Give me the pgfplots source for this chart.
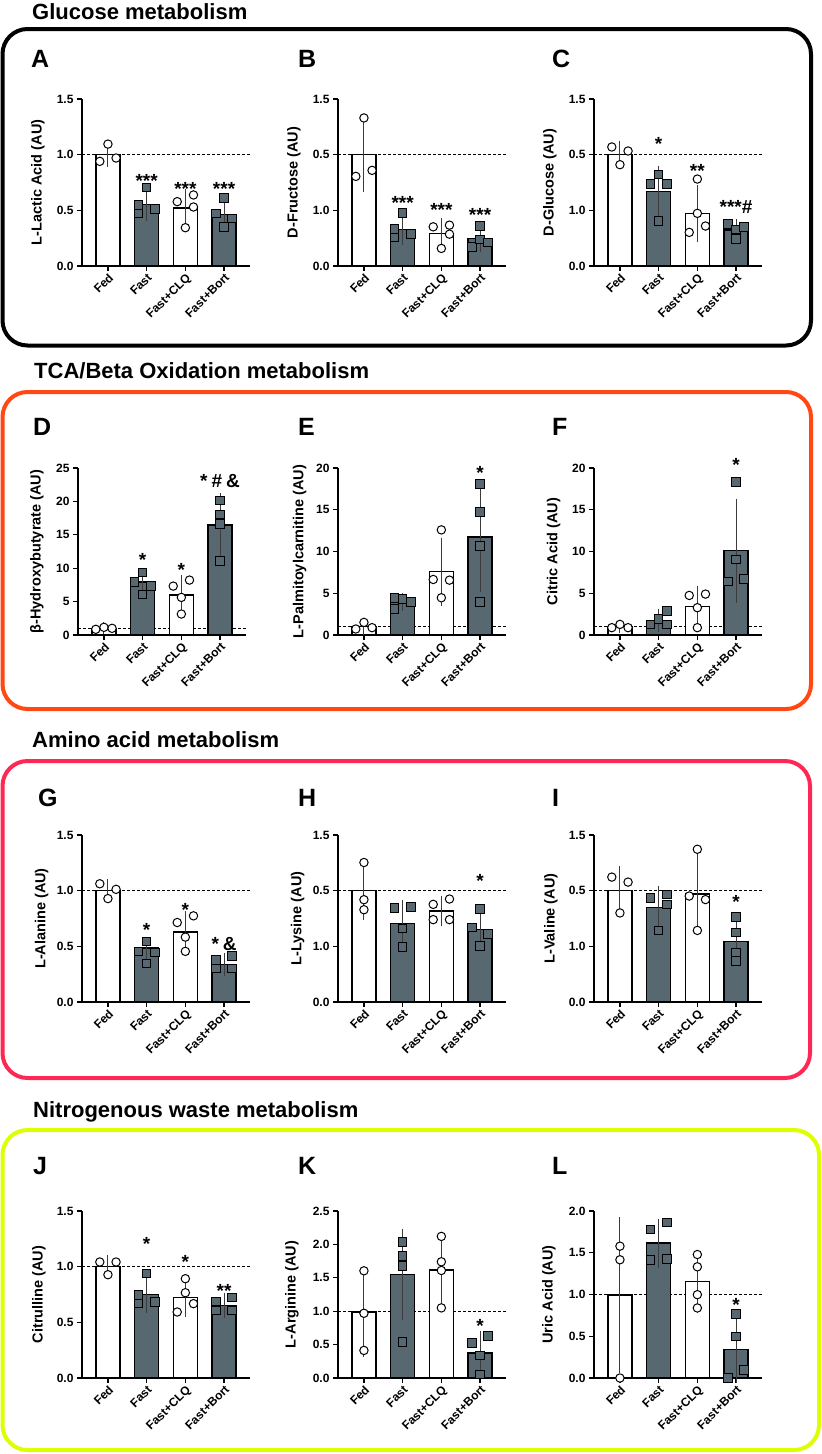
\documentclass[border=0pt]{standalone}
\usepackage{pgfplots}
\pgfplotsset{compat=1.18}
\usepackage{fontspec}
\setmainfont{Liberation Sans}
\definecolor{barcol}{RGB}{87,104,112}
\definecolor{ebcol}{RGB}{60,60,60}
\definecolor{boxB}{RGB}{255,72,20}
\definecolor{boxC}{RGB}{255,40,85}
\definecolor{boxD}{RGB}{221,255,0}
\newcommand\ticklab{\bfseries\fontsize{12}{13}\selectfont}
\newcommand\ylab{\bfseries\fontsize{14.5}{16}\selectfont}
\newcommand\starf{\bfseries\fontsize{19}{19}\selectfont}
\newcommand\panl{\bfseries\fontsize{25}{26}\selectfont}
\newcommand\titl{\bfseries\fontsize{22}{24}\selectfont}
\pgfplotsset{
 panel/.style={
   scale only axis, width=168pt, height=167pt, anchor=south west,
   axis lines=left, axis line style={-, line width=1.2pt},
   xmin=-0.67, xmax=3.67, ymin=0,
   xtick={0,1,2,3}, xticklabels={Fed,Fast,Fast+CLQ,Fast+Bort},
   tick align=outside, major tick length=5pt,
   tick style={black, line width=1.2pt},
   xticklabel style={rotate=45, anchor=north east, font=\ticklab, inner sep=1pt},
   yticklabel style={font=\ticklab},
   /pgf/number format/assume math mode=true,
   ylabel style={font=\ylab, at={(axis description cs:-0.262,0.5)}, anchor=center},
   clip=false,
 },
 dec/.style={yticklabel style={/pgf/number format/.cd, fixed, fixed zerofill, precision=1}},
 weird/.style={ytick={0,0.5,1,1.5}, ymax=1.5, yticklabels={0.0,1.0,0.5,1.5}},
}
\newcommand\dashline{\addplot[black, line width=0.8pt, dash pattern=on 3pt off 2pt] coordinates {(-0.67,1) (3.67,1)};}
\newcommand\whitebars[1]{\addplot[ybar, bar width=24pt, bar shift=0pt, fill=white, draw=black, line width=1.4pt] coordinates {#1};}
\newcommand\darkbars[1]{\addplot[ybar, bar width=24pt, bar shift=0pt, fill=barcol, draw=black, line width=1.4pt] coordinates {#1};}
\newcommand\ebars[1]{\addplot[draw=none, mark=none, error bars/.cd, y dir=both, y explicit, error bar style={draw=ebcol, line width=1pt}, error mark options={draw=ebcol, line width=1pt, mark size=5pt}] coordinates {#1};}
\newcommand\circs[1]{\addplot[only marks, mark=*, mark size=4.2pt, mark options={fill=white, draw=black, line width=1pt}] coordinates {#1};}
\newcommand\sqs[1]{\addplot[only marks, mark=square*, mark size=4.3pt, mark options={fill=barcol, draw=black, line width=1pt}] coordinates {#1};}
\newcommand\stars[3]{\node[font=\starf, inner sep=0pt, yshift=-4pt] at (axis cs:#1,#2) {#3};}
\newcommand\starsc[3]{\node[font=\starf, inner sep=0pt] at (axis cs:#1,#2) {#3};}
\begin{document}
\begin{tikzpicture}
\useasboundingbox (0pt,0pt) rectangle (822pt,-1454pt);
% boxes
\draw[line width=4pt, rounded corners=25pt, black] (2.5pt,-29pt) rectangle (811pt,-345.5pt);
\draw[line width=4pt, rounded corners=25pt, boxB] (2.5pt,-392pt) rectangle (811pt,-709pt);
\draw[line width=4pt, rounded corners=25pt, boxC] (2.5pt,-761pt) rectangle (810pt,-1078pt);
\draw[line width=4pt, rounded corners=25pt, boxD] (2.5pt,-1130pt) rectangle (819pt,-1450pt);
% titles
\node[font=\titl, anchor=base west, inner sep=0pt] at (32pt,-19pt) {Glucose metabolism};
\node[font=\titl, anchor=base west, inner sep=0pt] at (34pt,-378pt) {TCA/Beta Oxidation metabolism};
\node[font=\titl, anchor=base west, inner sep=0pt] at (32pt,-747pt) {Amino acid metabolism};
\node[font=\titl, anchor=base west, inner sep=0pt] at (33pt,-1117pt) {Nitrogenous waste metabolism};
% panel letters
\foreach \l/\x/\y in {A/31/67,B/298/67,C/552/67,D/33/435,E/298/435,F/552/435,G/38/806,H/298/806,I/552/806,J/33/1174,K/298/1174,L/552/1174}
  \node[font=\panl, anchor=base west, inner sep=0pt] at (\x pt,-\y pt) {\l};

% ---------- A
\begin{axis}[panel, dec, at={(82pt,-266pt)}, ymax=1.5, ytick={0,0.5,1,1.5}, ylabel={L-Lactic Acid (AU)}]
\dashline
\whitebars{(0,1.00) (2,0.52)}
\darkbars{(1,0.555) (3,0.465)}
\ebars{(0,1.00) +- (0,0.065) (1,0.555) +- (0,0.105) (2,0.52) +- (0,0.126) (3,0.465) +- (0,0.11)}
\circs{(-0.21,0.94) (0,1.095) (0.21,0.97) (1.79,0.578) (2.21,0.638) (2.21,0.53) (2,0.344)}
\sqs{(1,0.705) (0.79,0.55) (0.79,0.47) (1.21,0.51) (3,0.611) (2.79,0.473) (3.21,0.428) (3,0.353)}
\stars{1}{0.80}{***}
\stars{2}{0.73}{***}
\stars{3}{0.73}{***}
\end{axis}
% ---------- B
\begin{axis}[panel, weird, at={(338pt,-266pt)}, ylabel={D-Fructose (AU)}]
\dashline
\whitebars{(0,1.00) (2,0.29)}
\darkbars{(1,0.33) (3,0.245)}
\ebars{(0,1.00) +- (0,0.286) (1,0.33) +- (0,0.097) (2,0.29) +- (0,0.094) (3,0.245) +- (0,0.07)}
\circs{(0,1.33) (-0.21,0.805) (0.21,0.859) (1.79,0.352) (2.21,0.367) (2.21,0.286) (2,0.158)}
\sqs{(1,0.477) (0.79,0.33) (0.79,0.256) (1.21,0.289) (3,0.358) (2.79,0.173) (3,0.239) (3.21,0.212)}
\stars{1}{0.605}{***}
\stars{2}{0.537}{***}
\stars{3}{0.492}{***}
\end{axis}
% ---------- C
\begin{axis}[panel, weird, at={(594pt,-266pt)}, ylabel={D-Glucose (AU)}]
\dashline
\whitebars{(0,1.00) (2,0.473)}
\darkbars{(1,0.668) (3,0.323)}
\ebars{(0,1.00) +- (0,0.08) (1,0.668) +- (0,0.187) (2,0.473) +- (0,0.213) (3,0.323) +- (0,0.05)}
\circs{(-0.21,1.069) (0.21,1.033) (0,0.91) (2,0.781) (2,0.473) (1.79,0.302) (2.21,0.359)}
\sqs{(1,0.823) (0.79,0.734) (1.21,0.734) (1,0.404) (2.79,0.377) (3,0.329) (3.21,0.350) (3,0.240)}
\stars{1}{1.13}{*}
\stars{2}{0.89}{**}
\starsc{3}{0.527}{***\#}
\end{axis}

% ---------- D
\begin{axis}[panel, at={(78pt,-635pt)}, ymax=25, ytick={0,5,10,15,20,25}, ylabel={β-Hydroxybutyrate (AU)}, ylabel style={at={(axis description cs:-0.245,0.5)}}]
\dashline
\whitebars{(0,1.0) (2,6.0)}
\darkbars{(1,7.95) (3,16.45)}
\ebars{(0,1.0) +- (0,0.15) (1,7.95) +- (0,1.13) (2,6.0) +- (0,2.25) (3,16.45) +- (0,4.03)}
\circs{(-0.21,0.85) (0,1.15) (0.21,1.0) (1.79,7.32) (2.21,8.22) (2,5.63) (2,3.14)}
\sqs{(1,9.36) (0.79,7.92) (1.21,7.37) (1,6.08) (3,20.12) (3,18.03) (3,16.58) (3,11.1)}
\stars{1}{11.8}{*}
\stars{2}{10.3}{*}
\starsc{3}{23.0}{*\hspace{4pt}\#\hspace{4pt}\&}
\end{axis}
% ---------- E
\begin{axis}[panel, at={(338pt,-635pt)}, ymax=20, ytick={0,5,10,15,20}, ylabel={L-Palmitoylcarnitine (AU)}, ylabel style={at={(axis description cs:-0.228,0.5)}}]
\dashline
\whitebars{(0,1.0) (2,7.57)}
\darkbars{(1,3.95) (3,11.75)}
\ebars{(0,1.0) +- (0,0.4) (1,3.95) +- (0,0.5) (2,7.57) +- (0,3.49) (3,11.75) +- (0,6.01)}
\circs{(-0.21,0.72) (0,1.51) (0.21,0.88) (2,12.59) (1.79,6.65) (2.21,6.57) (2,4.46)}
\sqs{(0.79,4.46) (0.79,3.15) (1,4.3) (1.21,3.94) (3,18.05) (3,14.7) (3,10.64) (3,3.94)}
\stars{3}{19.9}{*}
\end{axis}
% ---------- F
\begin{axis}[panel, at={(594pt,-635pt)}, ymax=20, ytick={0,5,10,15,20}, ylabel={Citric Acid (AU)}, ylabel style={at={(axis description cs:-0.24,0.5)}}]
\dashline
\whitebars{(0,1.0) (2,3.4)}
\darkbars{(1,1.75) (3,10.1)}
\ebars{(0,1.0) +- (0,0.22) (1,1.75) +- (0,0.8) (2,3.4) +- (0,1.93) (3,10.1) +- (0,5.62)}
\circs{(-0.21,0.88) (0,1.27) (0.21,0.88) (1.79,4.74) (2.21,4.9) (2,3.27) (2,0.88)}
\sqs{(1.21,2.87) (1,1.91) (0.79,1.27) (1.21,1.27) (3,18.33) (3,9.04) (2.79,6.41) (3.21,6.73)}
\stars{3}{20.8}{*}
\end{axis}

% ---------- G
\begin{axis}[panel, dec, at={(82pt,-1002pt)}, ymax=1.5, ytick={0,0.5,1,1.5}, ylabel={L-Alanine (AU)}, ylabel style={at={(axis description cs:-0.24,0.5)}}]
\dashline
\whitebars{(0,1.00) (2,0.628)}
\darkbars{(1,0.485) (3,0.339)}
\ebars{(0,1.00) +- (0,0.058) (1,0.485) +- (0,0.058) (2,0.628) +- (0,0.142) (3,0.339) +- (0,0.056)}
\circs{(-0.21,1.062) (0.21,1.012) (0,0.929) (1.79,0.714) (2.21,0.774) (2,0.583) (2,0.455)}
\sqs{(1,0.542) (0.79,0.452) (1.21,0.446) (1,0.345) (2.79,0.378) (3.21,0.414) (2.79,0.30) (3.21,0.30)}
\stars{1}{0.685}{*}
\stars{2}{0.863}{*}
\starsc{3}{0.518}{*\hspace{4pt}\&}
\end{axis}
% ---------- H
\begin{axis}[panel, weird, at={(338pt,-1002pt)}, ylabel={L-Lysine (AU)}, ylabel style={at={(axis description cs:-0.24,0.5)}}]
\dashline
\whitebars{(0,1.00) (2,0.817)}
\darkbars{(1,0.707) (3,0.65)}
\ebars{(0,1.00) +- (0,0.221) (1,0.707) +- (0,0.168) (2,0.817) +- (0,0.093) (3,0.65) +- (0,0.137)}
\circs{(0,1.253) (0,0.919) (0,0.829) (1.79,0.877) (2.21,0.925) (1.79,0.74) (2.21,0.74)}
\sqs{(0.79,0.847) (1.21,0.853) (1,0.659) (1,0.495) (3,0.838) (2.79,0.671) (3.21,0.611) (3,0.501)}
\stars{3}{1.12}{*}
\end{axis}
% ---------- I
\begin{axis}[panel, weird, at={(594pt,-1002pt)}, ylabel={L-Valine (AU)}, ylabel style={at={(axis description cs:-0.256,0.5)}}]
\dashline
\whitebars{(0,1.00) (2,0.97)}
\darkbars{(1,0.848) (3,0.545)}
\ebars{(0,1.00) +- (0,0.176) (1,0.848) +- (0,0.149) (2,0.97) +- (0,0.315) (3,0.545) +- (0,0.162)}
\circs{(-0.21,1.122) (0.21,1.077) (0,0.80) (2,1.372) (1.79,0.952) (2.21,0.92) (2,0.643)}
\sqs{(0.79,0.932) (1.21,0.964) (1.21,0.875) (1,0.643) (3,0.765) (3,0.625) (3,0.446) (3,0.366)}
\stars{3}{0.935}{*}
\end{axis}

% ---------- J
\begin{axis}[panel, dec, at={(82pt,-1378pt)}, ymax=1.5, ytick={0,0.5,1,1.5}, ylabel={Citrulline (AU)}, ylabel style={at={(axis description cs:-0.256,0.5)}}]
\dashline
\whitebars{(0,1.00) (2,0.722)}
\darkbars{(1,0.751) (3,0.653)}
\ebars{(0,1.00) +- (0,0.062) (1,0.751) +- (0,0.124) (2,0.722) +- (0,0.128) (3,0.653) +- (0,0.067)}
\circs{(-0.21,1.042) (0.21,1.042) (0,0.928) (2,0.892) (2,0.766) (2.21,0.668) (1.79,0.593)}
\sqs{(1,0.937) (0.79,0.743) (0.79,0.668) (1.21,0.683) (3.21,0.722) (2.79,0.689) (2.79,0.608) (3.21,0.608)}
\stars{1}{1.24}{*}
\stars{2}{1.078}{*}
\stars{3}{0.817}{**}
\end{axis}
% ---------- K
\begin{axis}[panel, dec, at={(338pt,-1378pt)}, ymax=2.5, ytick={0,0.5,1,1.5,2,2.5}, ylabel={L-Arginine (AU)}, ylabel style={at={(axis description cs:-0.274,0.5)}}]
\dashline
\whitebars{(0,0.99) (2,1.62)}
\darkbars{(1,1.55) (3,0.375)}
\ebars{(0,0.99) +- (0,0.596) (1,1.55) +- (0,0.60) (2,1.62) +- (0,0.44) (3,0.375) +- (0,0.25)}
\circs{(0,1.605) (0,0.969) (0,0.413) (2,2.12) (2,1.74) (2,1.61) (2,1.05)}
\sqs{(1,2.04) (1,1.83) (1,1.68) (1,0.54) (2.79,0.522) (3.21,0.631) (3,0.338) (3,0.055)}
\stars{3}{0.845}{*}
\end{axis}
% ---------- L
\begin{axis}[panel, dec, at={(594pt,-1378pt)}, ymax=2.0, ytick={0,0.5,1,1.5,2}, ylabel={Uric Acid (AU)}, ylabel style={at={(axis description cs:-0.268,0.5)}}]
\dashline
\whitebars{(0,0.995) (2,1.155)}
\darkbars{(1,1.615) (3,0.338)}
\ebars{(0,0.995) +- (0,0.87) (1,1.615) +- (0,0.235) (2,1.155) +- (0,0.314) (3,0.338) += (0,0.36) -= (0,0.338)}
\circs{(0,1.579) (0,1.416) (0,0.0) (2,1.479) (2,1.332) (2,0.998) (2,0.839)}
\sqs{(0.79,1.781) (1.21,1.861) (0.79,1.416) (1.21,1.423) (3,0.767) (3,0.497) (3.21,0.099) (2.79,0.0)}
\stars{3}{0.918}{*}
\end{axis}
\end{tikzpicture}
\end{document}
